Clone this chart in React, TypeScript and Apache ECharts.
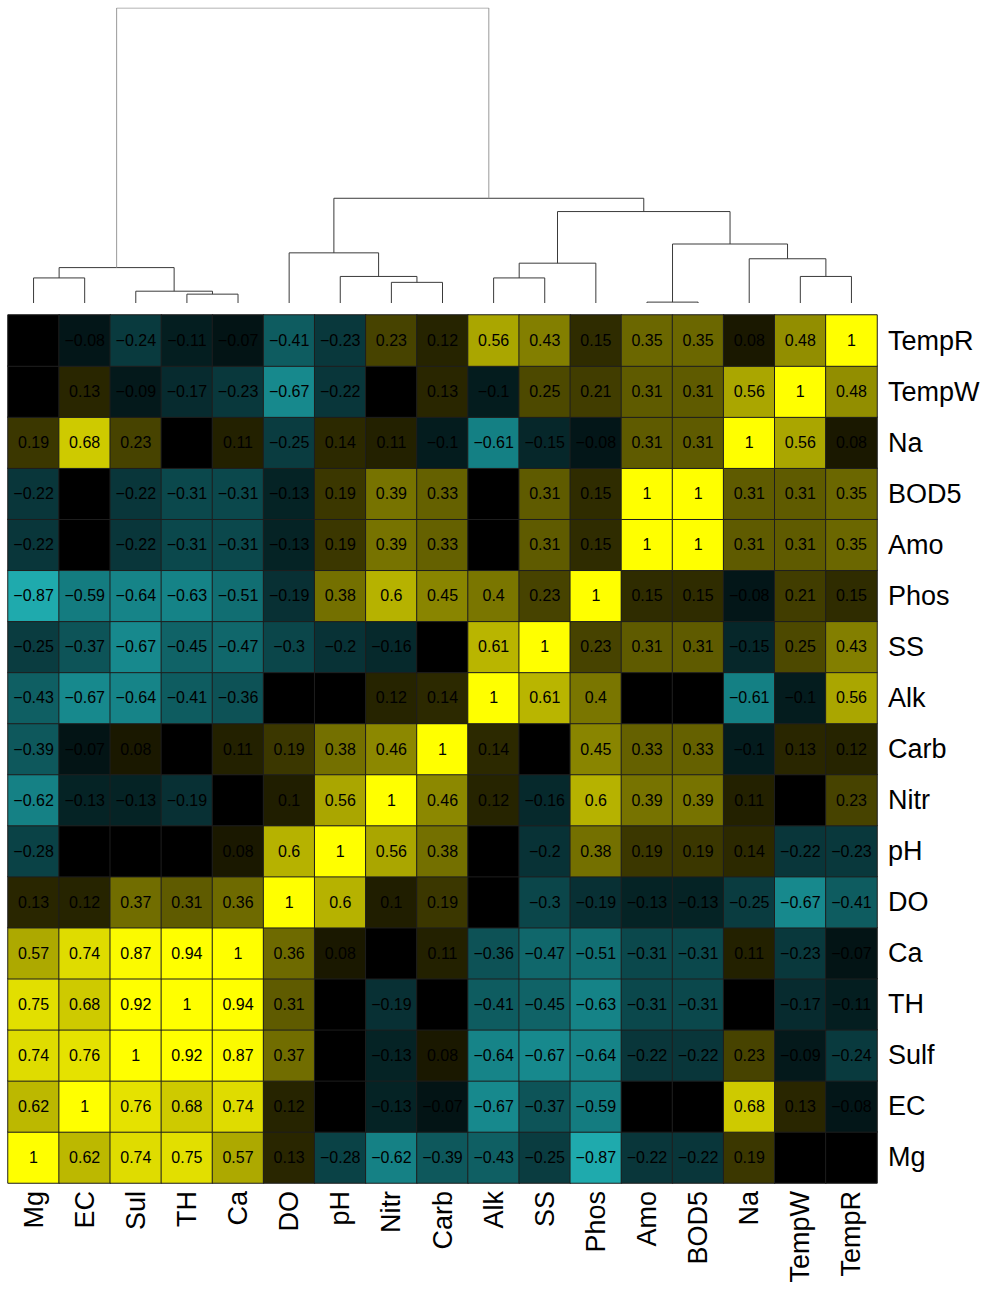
import React, { useEffect, useRef } from "react";
import * as echarts from "echarts";

const xLabels = ["Mg", "EC", "Sul", "TH", "Ca", "DO", "pH", "Nitr", "Carb", "Alk", "SS", "Phos", "Amo", "BOD5", "Na", "TempW", "TempR"];
const yLabels = ["Mg", "EC", "Sulf", "TH", "Ca", "DO", "pH", "Nitr", "Carb", "Alk", "SS", "Phos", "Amo", "BOD5", "Na", "TempW", "TempR"];

// correlation rows (0 = blank cell), column order = xLabels
const rMg = [1, 0.62, 0.74, 0.75, 0.57, 0.13, -0.28, -0.62, -0.39, -0.43, -0.25, -0.87, -0.22, -0.22, 0.19, 0, 0];
const rEC = [0.62, 1, 0.76, 0.68, 0.74, 0.12, 0, -0.13, -0.07, -0.67, -0.37, -0.59, 0, 0, 0.68, 0.13, -0.08];
const rSulf = [0.74, 0.76, 1, 0.92, 0.87, 0.37, 0, -0.13, 0.08, -0.64, -0.67, -0.64, -0.22, -0.22, 0.23, -0.09, -0.24];
const rTH = [0.75, 0.68, 0.92, 1, 0.94, 0.31, 0, -0.19, 0, -0.41, -0.45, -0.63, -0.31, -0.31, 0, -0.17, -0.11];
const rCa = [0.57, 0.74, 0.87, 0.94, 1, 0.36, 0.08, 0, 0.11, -0.36, -0.47, -0.51, -0.31, -0.31, 0.11, -0.23, -0.07];
const rDO = [0.13, 0.12, 0.37, 0.31, 0.36, 1, 0.6, 0.1, 0.19, 0, -0.3, -0.19, -0.13, -0.13, -0.25, -0.67, -0.41];
const rpH = [-0.28, 0, 0, 0, 0.08, 0.6, 1, 0.56, 0.38, 0, -0.2, 0.38, 0.19, 0.19, 0.14, -0.22, -0.23];
const rNitr = [-0.62, -0.13, -0.13, -0.19, 0, 0.1, 0.56, 1, 0.46, 0.12, -0.16, 0.6, 0.39, 0.39, 0.11, 0, 0.23];
const rCarb = [-0.39, -0.07, 0.08, 0, 0.11, 0.19, 0.38, 0.46, 1, 0.14, 0, 0.45, 0.33, 0.33, -0.1, 0.13, 0.12];
const rAlk = [-0.43, -0.67, -0.64, -0.41, -0.36, 0, 0, 0.12, 0.14, 1, 0.61, 0.4, 0, 0, -0.61, -0.1, 0.56];
const rSS = [-0.25, -0.37, -0.67, -0.45, -0.47, -0.3, -0.2, -0.16, 0, 0.61, 1, 0.23, 0.31, 0.31, -0.15, 0.25, 0.43];
const rPhos = [-0.87, -0.59, -0.64, -0.63, -0.51, -0.19, 0.38, 0.6, 0.45, 0.4, 0.23, 1, 0.15, 0.15, -0.08, 0.21, 0.15];
const rAmo = [-0.22, 0, -0.22, -0.31, -0.31, -0.13, 0.19, 0.39, 0.33, 0, 0.31, 0.15, 1, 1, 0.31, 0.31, 0.35];
const rBOD5 = [-0.22, 0, -0.22, -0.31, -0.31, -0.13, 0.19, 0.39, 0.33, 0, 0.31, 0.15, 1, 1, 0.31, 0.31, 0.35];
const rNa = [0.19, 0.68, 0.23, 0, 0.11, -0.25, 0.14, 0.11, -0.1, -0.61, -0.15, -0.08, 0.31, 0.31, 1, 0.56, 0.08];
const rTempW = [0, 0.13, -0.09, -0.17, -0.23, -0.67, -0.22, 0, 0.13, -0.1, 0.25, 0.21, 0.31, 0.31, 0.56, 1, 0.48];
const rTempR = [0, -0.08, -0.24, -0.11, -0.07, -0.41, -0.23, 0.23, 0.12, 0.56, 0.43, 0.15, 0.35, 0.35, 0.08, 0.48, 1];

const corr = [rMg, rEC, rSulf, rTH, rCa, rDO, rpH, rNitr, rCarb, rAlk, rSS, rPhos, rAmo, rBOD5, rNa, rTempW, rTempR];

// dendrogram merges: [childA, childB, height]; leaves 0..16, merge k gets id 17+k
const dendroMerges: [number, number, number][] = [
  [12, 13, 0.003],
  [3, 4, 0.03],
  [2, 18, 0.04],
  [0, 1, 0.085],
  [7, 8, 0.07],
  [6, 21, 0.09],
  [5, 22, 0.17],
  [15, 16, 0.09],
  [14, 24, 0.15],
  [17, 25, 0.2],
  [9, 10, 0.085],
  [27, 11, 0.135],
  [28, 26, 0.31],
  [23, 29, 0.355],
  [20, 19, 0.12],
  [31, 30, 1.0],
];

const colorStops = [
  "#23bebe", "#20afb2", "#1c9ea2", "#188e92", "#147e82", "#116c70",
  "#0e5a5e", "#0b464a", "#083236", "#041c1e", "#000000",
  "#201e00", "#3e3a00", "#5c5800", "#7a7600", "#989400",
  "#b6b200", "#d4d000", "#f0ee00", "#ffff00", "#ffff00",
];

const FONT = "'Liberation Sans', Arial, sans-serif";

export default function App() {
  const ref = useRef<HTMLDivElement>(null);
  useEffect(() => {
    if (!ref.current) return;
    const chart = echarts.init(ref.current, null, { renderer: "svg" });

    const heatData: number[][] = [];
    for (let r = 0; r < corr.length; r++) {
      for (let c = 0; c < corr[r].length; c++) {
        heatData.push([c, r, corr[r][c]]);
      }
    }

    const nodeX: number[] = xLabels.map((_, i) => i + 0.5);
    const nodeH: number[] = xLabels.map(() => 0);
    const segs: any[] = [];
    dendroMerges.forEach(([a, b, h], k) => {
      const id = xLabels.length + k;
      nodeX[id] = (nodeX[a] + nodeX[b]) / 2;
      nodeH[id] = h;
      const isRoot = k === dendroMerges.length - 1;
      segs.push({
        coords: [
          [nodeX[a], nodeH[a]],
          [nodeX[a], h],
          [nodeX[b], h],
          [nodeX[b], nodeH[b]],
        ],
        lineStyle: { color: isRoot ? "#9a9a9a" : "#3a3a3a", width: 1 },
      });
    });

    chart.setOption({
      animation: false,
      backgroundColor: "#ffffff",
      grid: [
        { left: 8, top: 315, width: 869, height: 868 },
        { left: 8, top: 8, width: 869, height: 295 },
      ],
      xAxis: [
        {
          type: "category",
          gridIndex: 0,
          data: xLabels,
          position: "bottom",
          axisLine: { show: false },
          axisTick: { show: false },
          splitLine: { show: false },
          axisLabel: { rotate: 90, fontSize: 27, color: "#000", margin: 8, fontFamily: FONT, interval: 0 },
        },
        { type: "value", gridIndex: 1, min: 0, max: 17, show: false },
      ],
      yAxis: [
        {
          type: "category",
          gridIndex: 0,
          data: yLabels,
          position: "right",
          axisLine: { show: false },
          axisTick: { show: false },
          splitLine: { show: false },
          axisLabel: { fontSize: 27, color: "#000", margin: 11, fontFamily: FONT, interval: 0 },
        },
        { type: "value", gridIndex: 1, min: 0, max: 1, show: false },
      ],
      visualMap: {
        type: "continuous",
        min: -1,
        max: 1,
        show: false,
        seriesIndex: 0,
        dimension: 2,
        inRange: { color: colorStops },
      },
      series: [
        {
          type: "heatmap",
          xAxisIndex: 0,
          yAxisIndex: 0,
          data: heatData,
          itemStyle: { borderColor: "#1e1e1e", borderWidth: 1 },
          label: {
            show: true,
            fontSize: 16,
            color: "#000",
            fontFamily: FONT,
            formatter: (p: any) => {
              const v = p.value[2];
              if (v === 0) return "";
              return (v < 0 ? "\u2212" : "") + String(Math.abs(v));
            },
          },
          emphasis: { disabled: true },
          silent: true,
        },
        {
          type: "lines",
          coordinateSystem: "cartesian2d",
          xAxisIndex: 1,
          yAxisIndex: 1,
          polyline: true,
          silent: true,
          lineStyle: { width: 1, color: "#3a3a3a", opacity: 1 },
          data: segs,
        },
      ],
    });
    return () => chart.dispose();
  }, []);
  return (
    <div
      ref={ref}
      style={{ position: "absolute", left: 0, top: 0, width: 994, height: 1290 }}
    />
  );
}
